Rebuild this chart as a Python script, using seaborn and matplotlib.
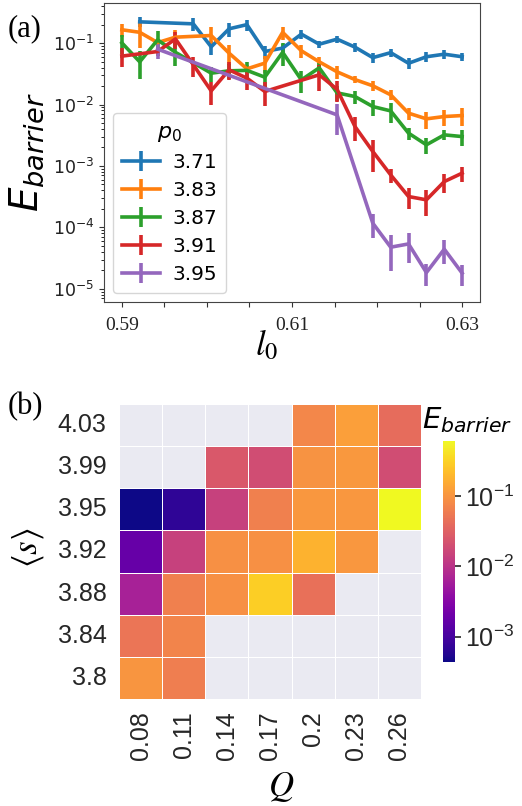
import numpy as np
import pandas as pd
import matplotlib
matplotlib.use("Agg")
import matplotlib.pyplot as plt
import seaborn as sns
from matplotlib.colors import LogNorm, ListedColormap
from matplotlib.ticker import NullLocator

nan = np.nan

# ---- panel (a): barrier energy vs l0 for several p0 ----
l0 = [0.5900, 0.5921, 0.5942, 0.5963, 0.5984, 0.6005, 0.6026, 0.6047, 0.6068, 0.6089,
      0.6111, 0.6132, 0.6153, 0.6174, 0.6195, 0.6216, 0.6237, 0.6258, 0.6279, 0.6300]
p0_levels = ["3.71", "3.83", "3.87", "3.91", "3.95"]

E_371 = [nan, 0.222, nan, nan, 0.206, 0.087, 0.171, 0.200, 0.073, 0.083,
         0.140, 0.096, 0.116, 0.086, 0.058, 0.070, 0.047, 0.060, 0.066, 0.060]
err_371 = [nan, 0.040, nan, nan, 0.049, 0.023, 0.043, 0.040, 0.018, 0.012,
           0.025, 0.014, 0.017, 0.013, 0.010, 0.011, 0.0094, 0.011, 0.0099, 0.009]

E_383 = [0.165, 0.150, 0.102, 0.125, nan, 0.133, 0.0687, 0.0381, 0.0472, 0.150,
         0.075, 0.0496, 0.0341, 0.0255, 0.0202, 0.0144, 0.00724, 0.00585, 0.00638, 0.00662]
err_383 = [0.040, 0.066, 0.010, 0.038, nan, 0.047, 0.024, 0.0057, 0.014, 0.036,
           0.018, 0.0089, 0.0082, 0.0033, 0.0036, 0.0026, 0.0016, 0.0018, 0.0019, 0.0022]

E_387 = [0.101, 0.0496, 0.113, 0.0708, nan, 0.0324, 0.0354, 0.036, 0.0279, 0.0708,
         0.0252, 0.0396, 0.0155, 0.0135, 0.00927, 0.00788, 0.00342, 0.00221, 0.00321, 0.00301]
err_387 = [0.035, 0.024, 0.045, 0.028, nan, 0.0087, 0.0096, 0.0126, 0.0084, 0.028,
           0.010, 0.0087, 0.0042, 0.0032, 0.0028, 0.0028, 0.00075, 0.00066, 0.00058, 0.0009]

E_391 = [0.0614, nan, 0.073, 0.117, 0.0444, 0.0167, 0.0367, 0.0269, 0.0163, nan,
         nan, 0.0305, 0.0177, 0.00439, 0.00172, 0.000716, 0.000318, 0.000281, 0.000557, 0.000764]
err_391 = [0.021, nan, 0.011, 0.037, 0.016, 0.0067, 0.012, 0.0094, 0.0070, nan,
           nan, 0.014, 0.0067, 0.0018, 0.00091, 0.00019, 0.00012, 0.00013, 0.00019, 0.00021]

E_395 = [nan, nan, 0.0798, nan, nan, nan, nan, nan, nan, nan,
         nan, nan, 0.00679, nan, 0.000117, 4.76e-5, 5.38e-5, 1.84e-5, 4.42e-5, 1.8e-5]
err_395 = [nan, nan, 0.024, nan, nan, nan, nan, nan, nan, nan,
           nan, nan, 0.0036, nan, 5.0e-5, 2.8e-5, 2.7e-5, 7.4e-6, 1.9e-5, 6.8e-6]

series = [E_371, E_383, E_387, E_391, E_395]
errors = [err_371, err_383, err_387, err_391, err_395]

l0_ticks = [0.59, 0.595, 0.60, 0.605, 0.61, 0.615, 0.62, 0.625, 0.63]
l0_ticklabels = ["0.59", "", "", "", "0.61", "", "", "", "0.63"]

# ---- panel (b): barrier energy over (Q, <s>) ----
s_levels = ["4.03", "3.99", "3.95", "3.92", "3.88", "3.84", "3.8"]
Q_levels = ["0.08", "0.11", "0.14", "0.17", "0.2", "0.23", "0.26"]
E_grid = [
    [nan,     nan,     nan,    nan,    0.0751, 0.125, 0.0406],
    [nan,     nan,     0.0253, 0.019,  0.0967, 0.108, 0.019],
    [4.4e-4,  6.8e-4,  0.0142, 0.065,  0.104,  0.104, 0.61],
    [1.74e-3, 0.0142,  0.090,  0.090,  0.179,  0.104, nan],
    [6.4e-3,  0.065,   0.090,  0.297,  0.0452, nan,   nan],
    [0.0505,  0.0698,  nan,    nan,    nan,    nan,   nan],
    [0.100,   0.0604,  nan,    nan,    nan,    nan,   nan],
]

W, H = 522, 806
fig = plt.figure(figsize=(W / 100, H / 100), dpi=100)


def box(left, top, right, bottom):
    return [left / W, 1 - bottom / H, (right - left) / W, (bottom - top) / H]


# ---------------- (a) ----------------
ax = fig.add_axes(box(104, 3, 480, 302))
colors = sns.color_palette("tab10", 5)
x = np.array(l0)
for lab, y, e, c in zip(p0_levels, series, errors, colors):
    y = np.array(y, dtype=float)
    e = np.array(e, dtype=float)
    m = ~np.isnan(y)
    ax.errorbar(x[m], y[m], yerr=e[m], color=c, lw=2.6, elinewidth=2.6,
                capsize=0, label=lab)
ax.set_yscale("log")
ax.set_ylim(6.1e-6, 0.45)
ax.set_xlim(0.5879, 0.6321)
ax.set_xticks(l0_ticks)
ax.set_xticklabels(l0_ticklabels, fontsize=14, family="Liberation Serif")
ax.tick_params(axis="y", labelsize=12.5, colors="#333333", labelcolor="#222222")
ax.tick_params(axis="x", colors="#333333", labelcolor="#222222", pad=7)
for sp in ax.spines.values():
    sp.set_color("#444444")
ax.set_ylabel(r"$E_{barrier}$", fontsize=28)
ax.yaxis.set_label_coords(-0.155, 0.5)
leg = ax.legend(title=r"$p_0$", loc="lower left", fontsize=14.5, title_fontsize=16,
                handlelength=1.9, borderaxespad=0.45, labelspacing=0.45,
                handletextpad=0.6, borderpad=0.45)

fig.text(25 / W, 1 - 29 / H, "(a)", ha="center", va="center", fontsize=22,
         family="Liberation Serif")
fig.text(267 / W, 1 - 345 / H, r"$l_0$", ha="center", va="center", fontsize=25,
         math_fontfamily="stix")

# ---------------- (b) ----------------
axh = fig.add_axes(box(119, 404.3, 421, 698.7))
cax = fig.add_axes(box(443.3, 440.7, 455, 661.7))
axh.set_facecolor("#EAEAF2")

# light background tiles for the empty parameter combinations
blank = pd.DataFrame(0.0, index=s_levels, columns=Q_levels)
sns.heatmap(blank, cmap=ListedColormap(["#EAEAF2"]), cbar=False,
            linewidths=0.5, linecolor="white", ax=axh)

grid = pd.DataFrame(E_grid, index=s_levels, columns=Q_levels)
sns.heatmap(grid, cmap="plasma", norm=LogNorm(vmin=4.4e-4, vmax=0.61),
            linewidths=0.5, linecolor="white", ax=axh, cbar_ax=cax)

axh.set_xticklabels(Q_levels, rotation=90, fontsize=18, family="Liberation Sans",
                    color="#262626")
axh.set_yticklabels(s_levels, rotation=0, fontsize=18, family="Liberation Sans",
                    color="#262626")
axh.tick_params(length=0, pad=9)
axh.set_xlabel("")
axh.set_ylabel("")

cax.yaxis.set_minor_locator(NullLocator())
cax.tick_params(axis="y", labelsize=18, length=4, width=1.2, colors="#262626")
for t in cax.get_yticklabels():
    t.set_family("Liberation Sans")

fig.text(467 / W, 1 - 420 / H, r"$E_{barrier}$", ha="center", va="center",
         fontsize=21)
fig.text(25 / W, 1 - 407 / H, "(b)", ha="center", va="center", fontsize=22,
         family="Liberation Serif")
fig.text(28 / W, 1 - 548 / H, r"$\langle s\rangle$", ha="center", va="center",
         rotation=90, fontsize=25, math_fontfamily="stix")
fig.text(281 / W, 1 - 787 / H, r"$Q$", ha="center", va="center", fontsize=25,
         math_fontfamily="stix")

fig.savefig("out.png", dpi=100)
